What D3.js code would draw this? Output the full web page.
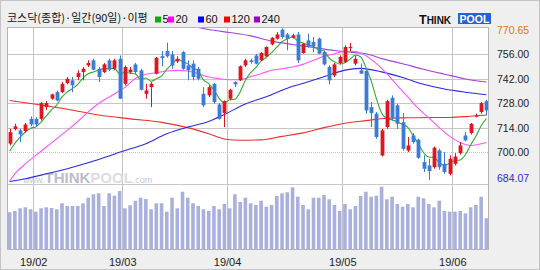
<!DOCTYPE html>
<html>
<head>
<meta charset="utf-8">
<script src="https://cdn.jsdelivr.net/npm/d3@7"></script>
<style>
html, body { margin: 0; padding: 0; background: #efefef; }
svg { display: block; }
</style>
</head>
<body>
<div id="plot"></div>
<script>
// trading days on the chart (90-day daily KOSDAQ)
var dates = [
	"2019-01-25","2019-01-28","2019-01-29","2019-01-30","2019-01-31",
	"2019-02-01","2019-02-07","2019-02-08","2019-02-11","2019-02-12","2019-02-13","2019-02-14","2019-02-15",
	"2019-02-18","2019-02-19","2019-02-20","2019-02-21","2019-02-22","2019-02-25","2019-02-26","2019-02-27","2019-02-28",
	"2019-03-04","2019-03-05","2019-03-06","2019-03-07","2019-03-08","2019-03-11","2019-03-12","2019-03-13","2019-03-14","2019-03-15",
	"2019-03-18","2019-03-19","2019-03-20","2019-03-21","2019-03-22","2019-03-25","2019-03-26","2019-03-27","2019-03-28","2019-03-29",
	"2019-04-01","2019-04-02","2019-04-03","2019-04-04","2019-04-05","2019-04-08","2019-04-09","2019-04-10","2019-04-11","2019-04-12",
	"2019-04-15","2019-04-16","2019-04-17","2019-04-18","2019-04-19","2019-04-22","2019-04-23","2019-04-24","2019-04-25","2019-04-26",
	"2019-04-29","2019-04-30",
	"2019-05-02","2019-05-03","2019-05-07","2019-05-08","2019-05-09","2019-05-10","2019-05-13","2019-05-14","2019-05-15","2019-05-16",
	"2019-05-17","2019-05-20","2019-05-21","2019-05-22","2019-05-23","2019-05-24","2019-05-27","2019-05-28","2019-05-29","2019-05-30","2019-05-31",
	"2019-06-03","2019-06-04","2019-06-05","2019-06-07","2019-06-10","2019-06-11","2019-06-12"
];

var opens = [
	704.8,713.1,712.4,712.0,719.0,719.0,719.0,725.7,730.5,734.3,734.3,739.4,741.0,742.9,745.7,749.5,752.4,747.6,745.7,752.4,747.6,753.3,
	739.0,745.7,750.1,746.7,733.3,737.1,744.8,754.8,757.7,755.8,751.8,757.1,749.5,750.5,747.6,733.3,732.4,739.0,727.2,722.3,
	730.5,740.0,741.0,749.5,752.4,755.2,752.4,754.7,761.5,764.8,769.9,767.2,765.3,767.2,756.6,763.8,762.9,764.8,757.1,748.6,743.8,750.9,
	751.4,759.6,750.5,746.7,746.3,725.7,721.9,698.1,714.3,731.0,726.7,717.1,700.9,709.5,707.1,694.3,692.4,691.4,701.0,693.3,687.6,
	693.3,699.4,709.5,710.9,720.3,722.9,729.1
];
var highs = [
	713.3,716.2,713.3,716.6,720.4,720.0,728.6,729.1,733.3,735.2,740.0,742.9,742.9,746.7,748.6,752.4,753.3,748.6,750.9,753.3,753.3,755.2,
	749.5,748.6,750.9,747.6,739.0,740.0,754.3,757.7,762.5,757.7,754.7,757.7,752.4,752.4,748.6,737.1,738.1,739.4,728.0,729.5,
	736.2,740.4,749.5,753.3,753.3,756.2,757.1,760.4,765.7,768.6,770.65,768.0,767.6,768.6,762.3,767.6,765.7,765.3,758.1,749.5,750.9,755.2,
	761.0,762.3,755.2,750.5,746.7,728.6,722.9,713.3,729.9,732.4,727.6,722.3,708.6,710.9,707.6,698.1,696.2,703.2,701.9,700.0,698.1,
	699.4,705.7,711.4,716.6,722.0,728.6,729.9
];
var lows = [
	703.8,712.4,705.7,711.4,714.7,714.3,718.1,724.2,729.9,729.1,733.7,738.7,734.3,741.0,741.0,748.6,746.7,740.0,745.1,746.3,746.7,730.5,
	738.0,744.8,744.8,735.2,730.5,725.7,744.4,749.0,753.9,747.6,750.9,747.0,741.0,741.0,741.0,725.7,731.4,727.6,718.5,714.3,
	729.5,737.1,740.6,748.6,750.5,750.1,752.0,754.3,761.0,764.2,764.8,758.1,764.8,750.9,756.2,759.6,757.1,755.8,749.5,738.7,742.9,750.1,
	750.9,757.7,749.5,744.8,721.9,714.3,707.6,697.5,713.3,718.1,713.3,700.9,700.0,704.8,696.2,688.6,684.07,690.5,689.9,687.6,686.7,
	692.4,698.6,706.2,710.0,719.8,721.9,720.9
];
var closes = [
	711.4,714.7,710.1,715.8,715.8,715.8,728.0,728.0,733.0,729.5,739.0,741.9,738.1,745.1,747.6,750.9,747.1,742.9,750.1,747.1,752.4,730.5,
	748.6,747.1,745.7,735.6,735.2,739.0,753.9,753.7,754.7,749.5,753.3,747.6,746.7,742.9,741.9,726.7,737.1,728.6,719.0,729.1,
	735.6,738.7,749.0,752.4,751.4,750.5,756.6,760.0,765.3,767.2,765.7,764.8,766.7,752.4,761.9,760.4,760.4,756.2,750.1,741.0,750.1,754.3,
	760.0,760.0,753.3,744.8,723.8,722.3,708.6,712.4,729.1,719.6,716.2,701.9,703.8,705.7,696.8,690.5,689.1,702.5,691.4,688.6,696.2,
	697.5,703.8,706.7,716.2,720.9,728.0,723.8
];
var volumes = [
	377,390,417,427,407,383,417,427,420,407,467,440,440,440,467,523,557,567,440,567,543,590,
	417,447,493,523,510,407,467,467,383,523,417,583,523,467,440,407,390,440,407,460,
	417,557,480,523,467,450,493,433,450,540,567,577,627,533,450,407,523,523,550,507,450,390,
	460,407,440,540,583,533,543,633,507,533,460,433,460,427,533,517,460,427,493,390,383,
	383,390,367,427,450,533,317
];

// moving averages
var ma5 = [
	700.5,705.0,708.5,711.5,713.6,714.4,717.1,720.7,724.1,726.9,731.5,734.3,736.3,738.7,742.3,744.7,745.8,746.7,747.7,747.6,747.9,744.6,
	745.6,745.0,744.7,741.4,742.3,740.5,741.9,743.5,747.3,750.2,753.0,751.8,750.4,748.0,746.5,741.2,739.1,735.4,730.7,728.1,
	729.9,730.2,734.3,741.0,745.4,748.4,752.0,754.2,756.8,759.9,763.0,764.6,765.9,763.4,762.3,761.2,760.4,758.3,757.8,753.6,751.6,750.3,
	751.1,753.1,755.5,754.5,748.4,740.8,730.6,722.4,719.2,718.4,717.2,715.8,714.1,709.4,704.9,699.7,697.2,696.9,694.1,692.4,693.6,
	695.2,695.5,698.6,704.1,709.0,715.1,719.1
];
var ma20 = [[0,683.5],[1,687.6],[3,693.3],[5,698.1],[7,702.9],[9,707.6],[11,712.4],[13,717.5],[15,723.0],[17,727.8],[19,731.5],
	[21,735.0],[22,737.0],[24,742.0],[26,744.5],[28,745.3],[30,746.3],[32,746.7],[34,746.3],[36,744.8],[38,742.9],[40,741.9],
	[42,741.3],[44,741.3],[46,743.0],[48,744.8],[50,746.7],[52,747.6],[54,748.6],[56,750.1],[58,752.4],[60,754.7],[62,756.2],
	[64,757.5],[66,757.5],[68,755.0],[70,750.5],[72,744.8],[74,738.0],[76,731.5],[78,725.0],[80,719.5],[82,714.0],[84,709.0],
	[86,705.5],[88,703.8],[90,704.8],[91,705.5]];
var ma60 = [[0,683.2],[3,684.8],[7,687.6],[12,691.4],[17,695.8],[22,700.9],[26,704.8],[30,710.5],[34,714.3],[38,717.5],[41,721.5],
	[45,727.5],[49,731.6],[53,736.5],[57,740.2],[61,744.0],[64,746.8],[67,747.8],[71,745.8],[75,742.6],[79,738.7],[83,736.0],
	[87,734.2],[91,732.8]];
var ma120 = [[0,729.5],[5,727.3],[11,724.5],[17,721.2],[23,719.0],[29,717.0],[34,714.0],[38,710.5],[41,707.5],[44,706.8],[48,707.0],
	[52,709.0],[56,711.0],[60,714.0],[64,716.5],[68,718.0],[72,719.3],[76,719.6],[80,719.8],[84,719.8],[88,720.5],[91,721.2]];
var ma240 = [[36,771.2],[38,770.0],[42,768.3],[46,766.4],[50,763.4],[54,761.5],[58,759.8],[62,758.0],[66,756.8],[68,756.2],
	[71,753.4],[75,750.5],[79,747.3],[83,744.5],[87,741.8],[91,740.0]];

var maNames = ["5", "20", "60", "120", "240"];
var priceTicks = [770.65, 756, 742, 728, 714, 700, 684.07];
var gridPrices = [756, 742, 728, 714, 700];

// ---------------------------//
//       LAYOUT  AND SCALE    //
// ---------------------------//
var W = 540, H = 270;
var plotLeft = 7, plotRight = 489, plotTop = 27, priceBottom = 184, volBottom = 250;

var svg = d3.select("#plot").append("svg")
	.attr("width", W).attr("height", H)
	.style("font-family", "'Liberation Sans', Arial, sans-serif");

svg.append("rect").attr("width", W).attr("height", H).attr("fill", "#efefef");
svg.append("rect").attr("x", 0.5).attr("y", 0.5).attr("width", W - 1).attr("height", H - 1)
	.attr("fill", "none").attr("stroke", "#c4c4c4");

var parse = d3.timeParse("%Y-%m-%d");
var fmt = d3.timeFormat("%y/%m");
var days = dates.map(parse);

var x = d3.scaleLinear().domain([0, dates.length]).range([plotLeft, plotRight]);
var y = d3.scaleLinear().domain([684.07, 770.65]).range([180, 28.4]);
var yv = d3.scaleLinear().domain([0, 660]).range([volBottom, volBottom - 66]);

// first trading day of every month after the first
var monthStarts = [];
days.forEach(function(d, i) {
	if (i > 0 && d.getMonth() != days[i - 1].getMonth()) monthStarts.push(i);
});

var maColor = d3.scaleOrdinal().domain(maNames)
	.range(["#33aa33", "#ff55ff", "#2a2ae6", "#ee2e2e", "#a445dd"]);
var legendColor = ["#11a811", "#ff00ff", "#0000ff", "#ff0000", "#9900cc"];

// panel backgrounds
svg.append("rect").attr("x", plotLeft).attr("y", plotTop)
	.attr("width", plotRight - plotLeft).attr("height", volBottom - plotTop)
	.attr("fill", "#ffffff");

svg.append("defs").append("clipPath").attr("id", "priceClip")
	.append("rect").attr("x", plotLeft).attr("y", plotTop)
	.attr("width", plotRight - plotLeft).attr("height", priceBottom - plotTop);

// ---------------------------//
//       GRID                 //
// ---------------------------//
svg.append("g").selectAll("line")
	.data(gridPrices)
	.enter().append("line")
	.attr("x1", plotLeft).attr("x2", plotRight)
	.attr("y1", function(d) { return Math.round(y(d)) + 0.5; })
	.attr("y2", function(d) { return Math.round(y(d)) + 0.5; })
	.attr("stroke", function(d) { return d == 700 ? "#c8c8c8" : "#c6c6c6"; })
	.style("stroke-dasharray", function(d) { return d == 700 ? "1,1" : null; });

svg.append("g").selectAll("line")
	.data(monthStarts)
	.enter().append("line")
	.attr("x1", function(d) { return Math.round(x(d)) + 0.5; })
	.attr("x2", function(d) { return Math.round(x(d)) + 0.5; })
	.attr("y1", plotTop).attr("y2", volBottom)
	.attr("stroke", "#c2c2c2");

// separator between price and volume
svg.append("line")
	.attr("x1", plotLeft).attr("x2", plotRight)
	.attr("y1", priceBottom + 0.5).attr("y2", priceBottom + 0.5)
	.attr("stroke", "#c8c8c8");

// watermark
var wm = svg.append("text").attr("x", 23).attr("y", 183).attr("clip-path", "url(#priceClip)");
wm.append("tspan").text("www.").attr("font-size", 9).attr("fill", "#c4c6d4");
wm.append("tspan").text("THINK").attr("font-size", 15).attr("font-weight", "bold").attr("fill", "#b9bccb");
wm.append("tspan").text("POOL").attr("font-size", 15).attr("font-weight", "bold").attr("fill", "#dcdde6");
wm.append("tspan").text(".com").attr("font-size", 9).attr("fill", "#c4c6d4");

// ---------------------------//
//       VOLUME               //
// ---------------------------//
var barW = 3.6;
svg.append("g").selectAll("rect")
	.data(volumes)
	.enter().append("rect")
	.attr("x", function(d, i) { return x(i + 0.5) - barW / 2; })
	.attr("y", function(d) { return yv(d); })
	.attr("width", barW)
	.attr("height", function(d) { return volBottom - yv(d); })
	.attr("fill", "#a9b0dc");

// ---------------------------//
//       MOVING AVERAGES      //
// ---------------------------//
var line = d3.line()
	.x(function(d) { return x(d[0] + 0.5); })
	.y(function(d) { return y(d[1]); })
	.curve(d3.curveMonotoneX);

var maSeries = [
	{name: "240", values: ma240},
	{name: "120", values: ma120},
	{name: "60", values: ma60},
	{name: "20", values: ma20},
	{name: "5", values: ma5.map(function(v, i) { return [i, v]; })}
];

var lines = svg.append("g").attr("clip-path", "url(#priceClip)");
lines.selectAll("path")
	.data(maSeries)
	.enter().append("path")
	.attr("d", function(d) { return line(d.values); })
	.attr("fill", "none")
	.attr("stroke", function(d) { return maColor(d.name); })
	.attr("stroke-width", 1.1);

// ---------------------------//
//       CANDLES              //
// ---------------------------//
var candleW = 3.8;
var candles = svg.append("g").attr("clip-path", "url(#priceClip)")
	.selectAll("g")
	.data(dates)
	.enter().append("g");

function candleColor(i) { return closes[i] >= opens[i] ? "#e2141e" : "#3b7bd8"; }

candles.append("line")
	.attr("x1", function(d, i) { return Math.round(x(i + 0.5)) + 0.5; })
	.attr("x2", function(d, i) { return Math.round(x(i + 0.5)) + 0.5; })
	.attr("y1", function(d, i) { return y(highs[i]); })
	.attr("y2", function(d, i) { return y(lows[i]); })
	.attr("stroke", function(d, i) { return candleColor(i); });

candles.append("rect")
	.attr("x", function(d, i) { return Math.round(x(i + 0.5)) + 0.5 - candleW / 2; })
	.attr("y", function(d, i) { return y(Math.max(opens[i], closes[i])); })
	.attr("width", candleW)
	.attr("height", function(d, i) { return Math.max(1, Math.abs(y(opens[i]) - y(closes[i]))); })
	.attr("fill", function(d, i) { return candleColor(i); });

// plot frame
svg.append("rect").attr("x", plotLeft + 0.5).attr("y", plotTop + 0.5)
	.attr("width", plotRight - plotLeft - 1).attr("height", volBottom - plotTop - 1)
	.attr("fill", "none").attr("stroke", "#b4b4b4");

// ---------------------------//
//       AXES                 //
// ---------------------------//
var yAxis = svg.append("g")
	.attr("transform", "translate(" + plotRight + ",0)")
	.call(d3.axisRight(y).tickValues(priceTicks).tickSize(0).tickPadding(8).tickFormat(d3.format(".2f")));
yAxis.select(".domain").remove();
yAxis.selectAll("text")
	.attr("font-size", 10.5)
	.attr("font-family", "'Liberation Sans', Arial, sans-serif")
	.attr("fill", function(d) { return d == 770.65 ? "#e8720c" : (d == 684.07 ? "#2a2ad8" : "#222222"); })
	.attr("dy", function(d) { return d == 770.65 ? "0.47em" : (d == 684.07 ? "0.15em" : "0.34em"); });

var xAxis = svg.append("g")
	.attr("transform", "translate(0," + volBottom + ")")
	.call(d3.axisBottom(x).tickValues(monthStarts).tickSize(0).tickPadding(8)
		.tickFormat(function(i) { return fmt(days[i]); }));
xAxis.select(".domain").remove();
xAxis.selectAll("text")
	.attr("font-size", 11)
	.attr("font-family", "'Liberation Sans', Arial, sans-serif")
	.attr("fill", "#222222");

// ---------------------------//
//       HEADER  AND LEGEND   //
// ---------------------------//
svg.append("text")
	.attr("x", 7).attr("y", 22)
	.attr("font-size", 11)
	.attr("font-family", "'Noto Sans CJK KR', sans-serif")
	.attr("fill", "#111111")
	.text("코스닥(종합)·일간(90일)·이평");

var legendX = [155, 168, 198, 224, 254];
var legend = svg.append("g").selectAll("g")
	.data(maNames)
	.enter().append("g")
	.attr("transform", function(d, i) { return "translate(" + legendX[i] + ",0)"; });
legend.append("rect")
	.attr("x", 0).attr("y", 16.5).attr("width", 6).attr("height", 6)
	.attr("fill", function(d, i) { return legendColor[i]; });
legend.append("text")
	.attr("x", 7.5).attr("y", 22.5)
	.attr("font-size", 11)
	.attr("fill", "#111111")
	.text(function(d) { return d; });

// logo
var logo = svg.append("text").attr("x", 419).attr("y", 23.5).attr("font-weight", "bold").attr("fill", "#111111");
logo.append("tspan").text("T").attr("font-size", 12.5);
logo.append("tspan").text("HINK").attr("font-size", 10);
svg.append("rect").attr("x", 458).attr("y", 13).attr("width", 33).attr("height", 11).attr("fill", "#2561d6");
svg.append("text").attr("x", 474.5).attr("y", 23)
	.attr("text-anchor", "middle").attr("font-size", 10.5).attr("font-weight", "bold")
	.attr("fill", "#ffffff").text("POOL");
</script>
</body>
</html>
